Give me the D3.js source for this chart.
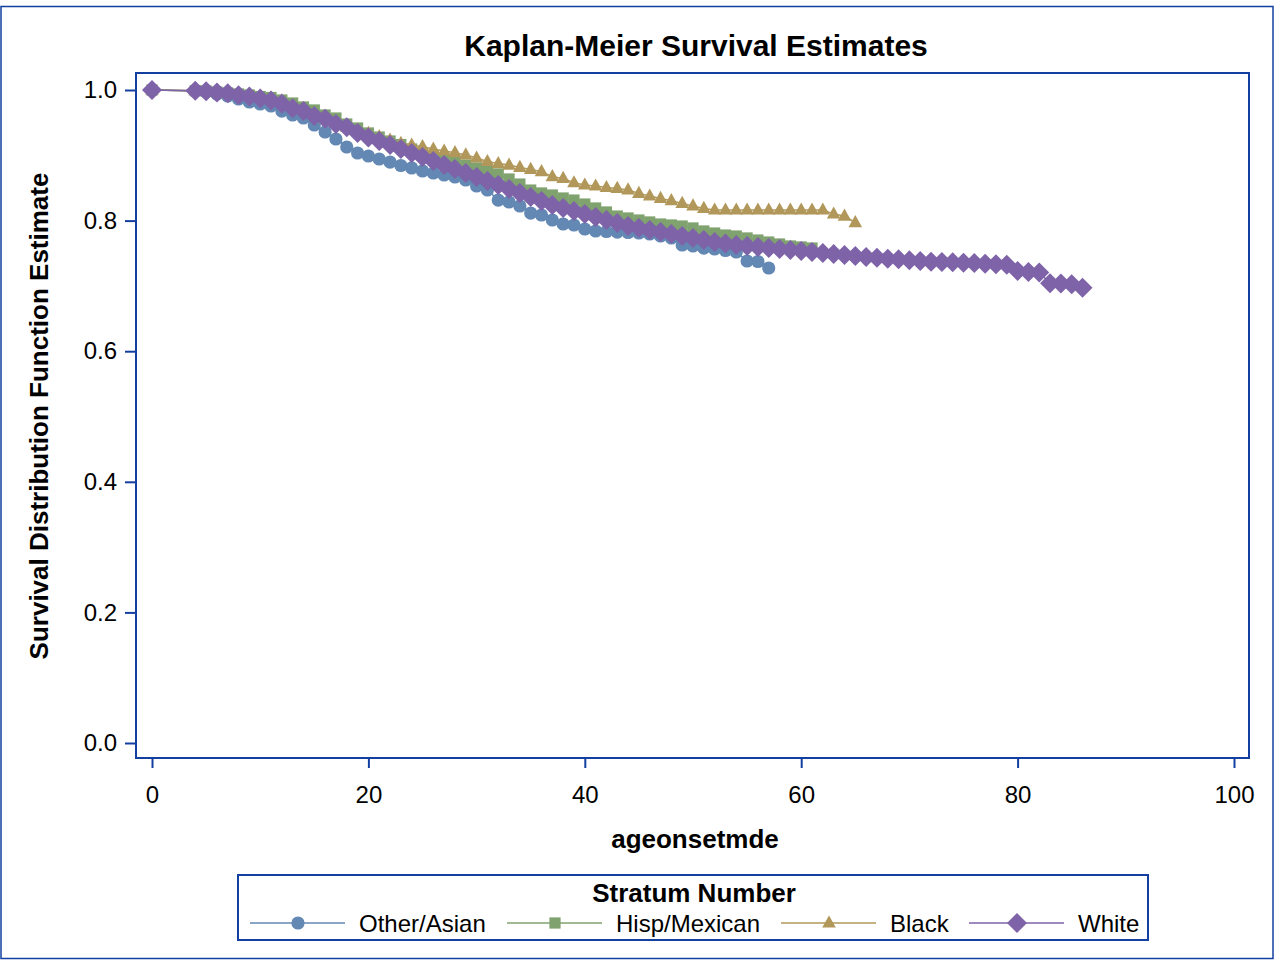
<!DOCTYPE html>
<html>
<head>
<meta charset="utf-8">
<script src="https://cdn.jsdelivr.net/npm/d3@7"></script>
<style>
  html, body { margin: 0; padding: 0; background: #fff; }
  svg { display: block; }
  text { font-family: "Liberation Sans", Arial, sans-serif; }
</style>
</head>
<body>
<svg id="chart" width="1275" height="961"></svg>
<script>
// ---------------- data ----------------
const strata = ["Other/Asian", "Hisp/Mexican", "Black", "White"];
const xTicks = [0, 20, 40, 60, 80, 100];
const yTicks = [0.0, 0.2, 0.4, 0.6, 0.8, 1.0];

const otherAge = [0,4,5,6,7,8,9,10,11,12,13,14,15,16,17,18,19,20,21,22,23,24,25,26,27,28,29,30,31,32,33,34,35,36,37,38,39,40,41,42,43,44,45,46,47,48,49,50,51,52,53,54,55,56,57];
const otherSurv = [1.0,0.9985,0.9969,0.9939,0.9908,0.9862,0.9816,0.9786,0.9755,0.9678,0.9617,0.9571,0.9464,0.9357,0.9250,0.9127,0.9035,0.8989,0.8943,0.8897,0.8844,0.8806,0.8760,0.8729,0.8698,0.8668,0.8622,0.8530,0.8469,0.8315,0.8285,0.8224,0.8116,0.8086,0.8009,0.7948,0.7933,0.7871,0.7841,0.7833,0.7825,0.7818,0.7810,0.7795,0.7764,0.7734,0.7626,0.7611,0.7580,0.7565,0.7542,0.7519,0.7381,0.7374,0.7274];

const hispAge = [0,4,5,6,7,8,9,10,11,12,13,14,15,16,17,18,19,20,21,22,23,24,25,26,27,28,29,30,31,32,33,34,35,36,37,38,39,40,41,42,43,44,45,46,47,48,49,50,51,52,53,54,55,56,57,58,59,60,61];
const hispSurv = [1.0,0.9990,0.9985,0.9969,0.9954,0.9939,0.9923,0.9900,0.9885,0.9847,0.9801,0.9740,0.9694,0.9617,0.9571,0.9479,0.9418,0.9342,0.9280,0.9219,0.9165,0.9096,0.9035,0.8989,0.8943,0.8897,0.8851,0.8806,0.8760,0.8714,0.8637,0.8560,0.8468,0.8423,0.8392,0.8346,0.8315,0.8254,0.8193,0.8132,0.8070,0.8040,0.8009,0.7979,0.7948,0.7933,0.7917,0.7887,0.7841,0.7810,0.7779,0.7764,0.7734,0.7703,0.7672,0.7642,0.7611,0.7596,0.7580];

const blackAge = [0,4,5,6,7,8,9,10,11,12,13,14,15,16,17,18,19,20,21,22,23,24,25,26,27,28,29,30,31,32,33,34,35,36,37,38,39,40,41,42,43,44,45,46,47,48,49,50,51,52,53,54,55,56,57,58,59,60,61,62,63,64,65];
const blackSurv = [1.0,0.9990,0.9985,0.9969,0.9954,0.9939,0.9923,0.9908,0.9877,0.9832,0.9755,0.9694,0.9633,0.9556,0.9495,0.9433,0.9387,0.9337,0.9285,0.9234,0.9184,0.9158,0.9132,0.9096,0.9066,0.9040,0.9005,0.8959,0.8905,0.8874,0.8851,0.8815,0.8784,0.8749,0.8672,0.8646,0.8580,0.8545,0.8530,0.8507,0.8493,0.8469,0.8417,0.8377,0.8340,0.8305,0.8263,0.8224,0.8187,0.8162,0.8162,0.8162,0.8162,0.8162,0.8162,0.8162,0.8162,0.8162,0.8162,0.8162,0.8101,0.8070,0.7968];

const whiteAge = [0,4,5,6,7,8,9,10,11,12,13,14,15,16,17,18,19,20,21,22,23,24,25,26,27,28,29,30,31,32,33,34,35,36,37,38,39,40,41,42,43,44,45,46,47,48,49,50,51,52,53,54,55,56,57,58,59,60,61,62,63,64,65,66,67,68,69,70,71,72,73,74,75,76,77,78,79,80,81,82,83,84,85,86];
const whiteSurv = [1.0,0.9990,0.9980,0.9960,0.9950,0.9920,0.9900,0.9870,0.9840,0.9790,0.9720,0.9680,0.9600,0.9560,0.9480,0.9430,0.9342,0.9273,0.9219,0.9158,0.9096,0.9035,0.8974,0.8913,0.8851,0.8790,0.8729,0.8668,0.8606,0.8545,0.8484,0.8423,0.8361,0.8300,0.8239,0.8193,0.8147,0.8101,0.8055,0.8009,0.7963,0.7917,0.7887,0.7856,0.7825,0.7795,0.7764,0.7734,0.7703,0.7672,0.7649,0.7626,0.7611,0.7596,0.7580,0.7565,0.7550,0.7534,0.7519,0.7504,0.7489,0.7473,0.7458,0.7442,0.7432,0.7417,0.7407,0.7392,0.7381,0.7371,0.7366,0.7361,0.7355,0.7350,0.7340,0.7331,0.7325,0.7228,0.7213,0.7205,0.7040,0.7035,0.7024,0.6973];

const seriesColors = ["#6388B4", "#7FA26F", "#B1985A", "#7E63A8"];
const seriesShapes = ["circle", "square", "triangle", "diamond"];
const ages = [otherAge, hispAge, blackAge, whiteAge];
const survs = [otherSurv, hispSurv, blackSurv, whiteSurv];

// ---------------- layout ----------------
const navy = "#1340A0";
const svg = d3.select("#chart");
const frame = { left: 136, top: 73, right: 1249, bottom: 758 };
const x = d3.scaleLinear().domain([0, 100]).range([152, 1234]);
const y = d3.scaleLinear().domain([0, 1]).range([743, 90]);

function markerPath(shape) {
  switch (shape) {
    case "circle":   return "M6.6,0A6.6,6.6 0 1,1 -6.6,0A6.6,6.6 0 1,1 6.6,0Z";
    case "square":   return "M-5.6,-5.6H5.6V5.6H-5.6Z";
    case "triangle": return "M0,-7.6L6.8,4.6H-6.8Z";
    case "diamond":  return "M0,-10L10,0L0,10L-10,0Z";
  }
}

// outer border
svg.append("rect").attr("x", 1).attr("y", 6.5).attr("width", 1272).attr("height", 952)
  .attr("fill", "none").attr("stroke", navy).attr("stroke-width", 1.5);

// title
svg.append("text").attr("x", 696).attr("y", 56).attr("text-anchor", "middle")
  .attr("font-size", 30).attr("font-weight", "bold").text("Kaplan-Meier Survival Estimates");

// axes
const yAxis = d3.axisLeft(y).tickValues(yTicks).tickFormat(d3.format(".1f")).tickSize(11).tickPadding(8);
const gy = svg.append("g").attr("transform", `translate(${frame.left},0)`).call(yAxis);
const xAxis = d3.axisBottom(x).tickValues(xTicks).tickFormat(d3.format("d")).tickSize(10).tickPadding(18);
const gx = svg.append("g").attr("transform", `translate(0,${frame.bottom})`).call(xAxis);
[gx, gy].forEach(g => {
  g.select(".domain").remove();
  g.selectAll(".tick line").attr("stroke", navy).attr("stroke-width", 2);
  g.selectAll(".tick text").attr("fill", "#000").attr("font-size", 24)
    .attr("font-family", "'Liberation Sans', Arial, sans-serif");
});

// axis labels
svg.append("text").attr("x", 695).attr("y", 848).attr("text-anchor", "middle")
  .attr("font-size", 26).attr("font-weight", "bold").text("ageonsetmde");
svg.append("text").attr("transform", "translate(48,416) rotate(-90)").attr("text-anchor", "middle")
  .attr("font-size", 26).attr("font-weight", "bold").text("Survival Distribution Function Estimate");

// data
const plot = svg.append("g");
strata.forEach((name, i) => {
  const pts = ages[i].map((a, j) => [a, survs[i][j]]);
  const g = plot.append("g");
  g.append("path").datum(pts)
    .attr("d", d3.line().x(d => x(d[0])).y(d => y(d[1])))
    .attr("fill", "none").attr("stroke", seriesColors[i]).attr("stroke-width", 1.5);
  g.selectAll("path.m").data(pts).enter().append("path").attr("class", "m")
    .attr("transform", d => `translate(${x(d[0])},${y(d[1])})`)
    .attr("d", markerPath(seriesShapes[i]))
    .attr("fill", seriesColors[i]);
});

// frame
svg.append("rect").attr("x", frame.left).attr("y", frame.top)
  .attr("width", frame.right - frame.left).attr("height", frame.bottom - frame.top)
  .attr("fill", "none").attr("stroke", navy).attr("stroke-width", 2);

// legend
const leg = { x: 238, y: 875, w: 910, h: 65 };
svg.append("rect").attr("x", leg.x).attr("y", leg.y).attr("width", leg.w).attr("height", leg.h)
  .attr("fill", "none").attr("stroke", navy).attr("stroke-width", 2);
svg.append("text").attr("x", 694).attr("y", 902).attr("text-anchor", "middle")
  .attr("font-size", 26).attr("font-weight", "bold").text("Stratum Number");
const legStarts = [250, 507, 781, 969];
strata.forEach((name, i) => {
  const g = svg.append("g").attr("transform", `translate(${legStarts[i]},923)`);
  g.append("line").attr("x1", 0).attr("x2", 95).attr("y1", 0).attr("y2", 0)
    .attr("stroke", seriesColors[i]).attr("stroke-width", 1.5);
  g.append("path").attr("transform", "translate(48,0)").attr("d", markerPath(seriesShapes[i]))
    .attr("fill", seriesColors[i]);
  g.append("text").attr("x", 109).attr("y", 8.5).attr("font-size", 24).text(name);
});
</script>
</body>
</html>
